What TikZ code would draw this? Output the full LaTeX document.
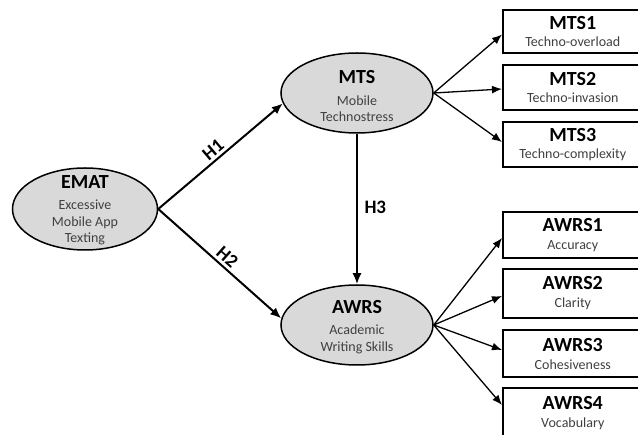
\documentclass[tikz,border=0pt]{standalone}
\usepackage{fontspec}
\setmainfont{Carlito}
\usetikzlibrary{shapes.geometric,arrows.meta}
\definecolor{ellfill}{HTML}{D9D9D9}
\definecolor{subgray}{HTML}{404040}
\newcommand{\mttl}[1]{{\fontsize{20}{22}\selectfont\bfseries\color{black}#1}}
\begin{document}
\begin{tikzpicture}[x=1pt,y=-1pt,
  latent/.style={ellipse,draw=black,line width=1.5pt,fill=ellfill,inner sep=0pt},
  ltext/.style={align=center,inner sep=0pt,text=subgray,font=\fontsize{14}{16.5}\selectfont},
  indic/.style={rectangle,draw=black,line width=1.6pt,fill=white,minimum width=140pt,inner sep=0pt,
    align=center,anchor=west,text=subgray,font=\fontsize{14}{16}\selectfont},
  hpath/.style={line width=2pt,-{Latex[length=11pt,width=9pt]}},
  ipath/.style={line width=1.3pt,-{Latex[length=10pt,width=8pt]}},
  hlab/.style={font=\fontsize{19}{21}\selectfont\bfseries,inner sep=0.5pt}]
\useasboundingbox (0,0) rectangle (638,435);
\clip (0,0) rectangle (638,435);
% latent variables
\node[latent,minimum width=145pt,minimum height=82pt] (emat) at (85,209) {};
\node[ltext] (ematT) at (85,210) {\mttl{EMAT}\\[5pt]Excessive\\Mobile App\\Texting};
\node[latent,minimum width=152pt,minimum height=80pt] (mts) at (357,93) {};
\node[ltext] (mtsT) at (357,96) {\mttl{MTS}\\[5pt]Mobile\\Technostress};
\node[latent,minimum width=152pt,minimum height=80pt] (awrs) at (357,325) {};
\node[ltext] (awrsT) at (357,327) {\mttl{AWRS}\\[5pt]Academic\\Writing Skills};
% indicators
\node[indic,minimum height=43pt] (mts1) at (502,31.5) {\mttl{MTS1}\\[1pt]Techno-overload};
\node[indic,minimum height=45pt] (mts2) at (502,87.5) {\mttl{MTS2}\\[1pt]Techno-invasion};
\node[indic,minimum height=45pt] (mts3) at (502,144.5) {\mttl{MTS3}\\[1pt]Techno-complexity};
\node[indic,minimum height=46pt] (awrs1) at (502,235) {\mttl{AWRS1}\\[2pt]Accuracy};
\node[indic,minimum height=49pt] (awrs2) at (502,293.5) {\mttl{AWRS2}\\[2pt]Clarity};
\node[indic,minimum height=47pt] (awrs3) at (502,353.5) {\mttl{AWRS3}\\[2pt]Cohesiveness};
\node[indic,minimum height=50pt] (awrs4) at (502,413) {\mttl{AWRS4}\\[2pt]Vocabulary};
% structural paths
\draw[hpath] (emat.east) -- node[hlab,sloped,above=2pt,pos=0.49] (h1) {H1} (mts.188);
\draw[hpath] (emat.east) -- node[hlab,sloped,above=2pt,pos=0.51] (h2) {H2} (awrs.175);
\draw[hpath] (mts.south) -- node[hlab,right=6pt,pos=0.49] (h3) {H3} (awrs.north);
% measurement paths
\draw[ipath] (mts.east) -- ([yshift=-3pt]mts1.west);
\draw[ipath] (mts.east) -- ([yshift=-1.5pt]mts2.west);
\draw[ipath] (mts.east) -- ([yshift=2.5pt]mts3.west);
\draw[ipath] (awrs.east) -- ([yshift=-3pt]awrs1.west);
\draw[ipath] (awrs.east) -- ([yshift=-2.5pt]awrs2.west);
\draw[ipath] (awrs.east) -- ([yshift=3.5pt]awrs3.west);
\draw[ipath] (awrs.east) -- ([yshift=8pt]awrs4.west);
\end{tikzpicture}
\end{document}
